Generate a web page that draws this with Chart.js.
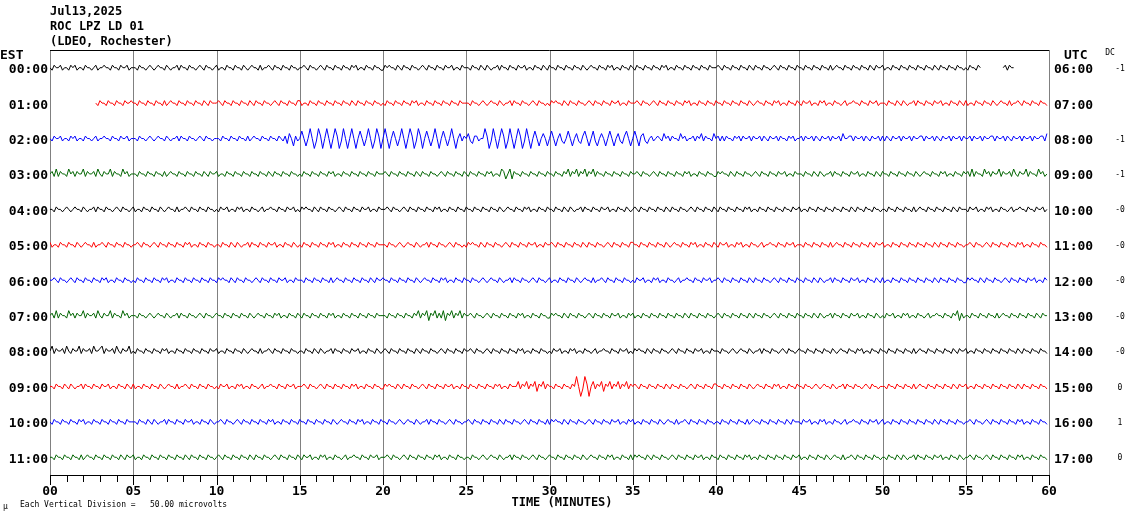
<!DOCTYPE html>
<html>
<head>
<meta charset="utf-8">
<script src="https://cdn.jsdelivr.net/npm/chart.js@4"></script>
<style>
body{margin:0;background:#fff;}
#wrap{width:1130px;height:519px;}
</style>
</head>
<body>
<div id="wrap"><canvas id="heli"></canvas></div>
<script>
//Header and labels
const titleLines = ['Jul13,2025', 'ROC LPZ LD 01', '(LDEO, Rochester)'];
const estLabels = ['00:00','01:00','02:00','03:00','04:00','05:00','06:00','07:00','08:00','09:00','10:00','11:00'];
const utcLabels = ['06:00','07:00','08:00','09:00','10:00','11:00','12:00','13:00','14:00','15:00','16:00','17:00'];
const dcValues = ['-1','','-1','-1','-0','-0','-0','-0','-0','0','1','0'];
const minuteTicks = ['00','05','10','15','20','25','30','35','40','45','50','55','60'];
const colors = ['#000000','#ff0000','#0000ff','#006400'];

//Each char = one sample every 0.125 min, 5 is the trace centre, '.' is no data
const trace00 = "5465564554656455465545645565546554655645"+"5546554565456554654556465546554565465545"+"6455465546554654565546455654655465546554"+"5565465545654655465546554656455465546554"+"4656554654655465545654655465546556455465"+"5546554654654556465546554655645546554654"+"6554655465546554654565546554656455465546"+"5465546554655465645546554655465546554655"+"5654655465546554654655465545654655465546"+"5546554655465546456554655465546554654655"+"6455465546554655465546554654655465546554"+"54655465..........564655................";
const trace01 = "......................546554655465546556"+"5546554655465546456554655465546554654655"+"5654655465546554654655465545654655465546"+"6455465546554655465546554654655465546554"+"5465546554655465645546554655465546554655"+"5546554565456554654556465546554565465545"+"4656554654655465545654655465546556455465"+"5565465545654655465546554656455465546554"+"6554655465546554654565546554656455465546"+"5465564554656455465545645565546554655645"+"5546554654654556465546554655645546554654"+"6455465546554654565546455654655465546554";
const trace02 = "5465564554656455465545645565546554655645"+"5546554565456554654556465546554565465545"+"5546554655465546456554655465546546375264"+"5852595149615951596149515951585259514961"+"5951585259515961496158525951585259515746"+"5743664559614951596149515961495158525752"+"5852574358525743685258425752585257436852"+"5852674356456547564655475645564657465547"+"5646465546564655646556465465564655465645"+"5646556465465564655647556646556465465564"+"6465465564655646556646556465465564655646"+"5564655646556646556465465564655646556647";
const trace03 = "5647465547564655746556475465574655475645"+"5546554655465546456554655465546554654655"+"6455465546554655465546554654655465546554"+"5465546554655465645546554655465546554655"+"5654655465546554654655465545654655465546"+"5465546554656455476357365546554655465546"+"5546554657465746574657465546554655465546"+"5565465545654655465546554656455465546554"+"4656554654655465545654655465546556455465"+"5546554654654556465546554655645546554654"+"6554655465546554654565546554656455465546"+"5647465547564655746556475465574655475645";
const trace04 = "5546554565456554654556465546554565465545"+"6455465546554654565546455654655465546554"+"5465564554656455465545645565546554655645"+"4656554654655465545654655465546556455465"+"5565465545654655465546554656455465546554"+"6554655465546554654565546554656455465546"+"5546554654654556465546554655645546554654"+"5654655465546554654655465545654655465546"+"5465546554655465645546554655465546554655"+"6455465546554655465546554654655465546554"+"5546554655465546456554655465546554654655"+"5465564554656455465545645565546554655645";
const trace05 = "6455465546554654565546455654655465546554"+"5565465545654655465546554656455465546554"+"5546554654654556465546554655645546554654"+"5465546554655465645546554655465546554655"+"5546554565456554654556465546554565465545"+"4656554654655465545654655465546556455465"+"5654655465546554654655465545654655465546"+"6554655465546554654565546554656455465546"+"5465564554656455465545645565546554655645"+"5546554655465546456554655465546554654655"+"6455465546554655465546554654655465546554"+"5565465545654655465546554656455465546554";
const trace06 = "5565465545654655465546554656455465546554"+"5465546554655465645546554655465546554655"+"4656554654655465545654655465546556455465"+"5546554655465546456554655465546554654655"+"6554655465546554654565546554656455465546"+"5546554565456554654556465546554565465545"+"6455465546554654565546455654655465546554"+"5465564554656455465545645565546554655645"+"5654655465546554654655465545654655465546"+"5546554654654556465546554655645546554654"+"6455465546554655465546554654655465546554"+"4656554654655465545654655465546556455465";
const trace07 = "5647465547564655746556475465574655475645"+"5546554565456554654556465546554565465545"+"6554655465546554654565546554656455465546"+"5465546554655465645546554655465546554655"+"5546554655465546574657365746473657465746"+"5565465545654655465546554656455465546554"+"4656554654655465545654655465546556455465"+"6455465546554655465546554654655465546554"+"5654655465546554654655465545654655465546"+"5546554654654556465546554655645546554654"+"5465564554656455465545645565546554657364"+"5546554655465546456554655465546554654655";
const trace08 = "5746556475465574655647556746556475465574"+"5465546554655465645546554655465546554655"+"6455465546554654565546455654655465546554"+"5546554654654556465546554655645546554654"+"5654655465546554654655465545654655465546"+"5565465545654655465546554656455465546554"+"5465564554656455465545645565546554655645"+"4656554654655465545654655465546556455465"+"5546554565456554654556465546554565465545"+"6554655465546554654565546554656455465546"+"5546554655465546456554655465546554654655"+"6455465546554655465546554654655465546554";
const trace09 = "5546554654654556465546554655645546554654"+"6455465546554654565546455654655465546554"+"5465564554656455465545645565546554655645"+"5565465545654655465546554656455465546554"+"4656554654655465545654655465546556455465"+"5465546554655465645546555746574657365746"+"5546554655465951496157465736574657465746"+"5654655465546554654655465545654655465546"+"6554655465546554654565546554656455465546"+"5546554565456554654556465546554565465545"+"5546554655465546456554655465546554654655"+"6455465546554655465546554654655465546554";
const trace10 = "5465546554655465645546554655465546554655"+"5546554654654556465546554655645546554654"+"5565465545654655465546554656455465546554"+"6554655465546554654565546554656455465546"+"5546554565456554654556465546554565465545"+"5654655465546554654655465545654655465546"+"4656554654655465545654655465546556455465"+"6455465546554654565546455654655465546554"+"5546554655465546456554655465546554654655"+"5465564554656455465545645565546554655645"+"6455465546554655465546554654655465546554"+"5565465545654655465546554656455465546554";
const trace11 = "5546554655465546456554655465546554654655"+"6455465546554655465546554654655465546554"+"5654655465546554654655465545654655465546"+"5465564554656455465545645565546554655645"+"5565465545654655465546554656455465546554"+"5546554565456554654556465546554565465545"+"6554655465546554654565546554656455465546"+"4656554654655465545654655465546556455465"+"5465546554655465645546554655465546554655"+"6455465546554654565546455654655465546554"+"5546554654654556465546554655645546554654"+"5565465545654655465546554656455465546554";
const traces = [trace00,trace01,trace02,trace03,trace04,trace05,trace06,trace07,trace08,trace09,trace10,trace11];

const step = 0.125;   // minutes per char
const gain = 0.07;    // trace spacing units per char step

function toPoints(str, row){
    let pts = [];
    for (let i = 0; i < str.length; i++){
        let c = str[i];
        let y = (c == '.') ? null : -row + (Number(c) - 5) * gain;
        pts.push({x: i * step, y: y});
    }
    return pts;
}

let datasets = traces.map(function(t, i){
    return {
        data: toPoints(t, i),
        borderColor: colors[i % 4],
        borderWidth: 1,
        pointRadius: 0,
        tension: 0,
        spanGaps: false
    };
});

const mono = '"DejaVu Sans Mono", "Liberation Mono", monospace';

//Draws frame, grid and all the text around the plot
const heliDecor = {
    id: 'heliDecor',
    beforeDatasetsDraw(chart){
        const ctx = chart.ctx, xs = chart.scales.x, a = chart.chartArea;
        ctx.save();
        ctx.strokeStyle = '#808080';
        ctx.lineWidth = 1;
        for (let m = 0; m <= 60; m += 5){
            let px = Math.round(xs.getPixelForValue(m)) + 0.5;
            ctx.beginPath(); ctx.moveTo(px, a.top); ctx.lineTo(px, a.bottom); ctx.stroke();
        }
        ctx.restore();
    },
    afterDraw(chart){
        const ctx = chart.ctx, xs = chart.scales.x, ys = chart.scales.y, a = chart.chartArea;
        ctx.save();
        ctx.strokeStyle = '#000';
        ctx.lineWidth = 1;
        ctx.beginPath();
        ctx.moveTo(a.left, a.top + 0.5); ctx.lineTo(a.right, a.top + 0.5);
        ctx.moveTo(a.left, a.bottom + 0.5); ctx.lineTo(a.right, a.bottom + 0.5);
        ctx.stroke();
        for (let m = 0; m <= 60; m++){
            let px = Math.round(xs.getPixelForValue(m)) + 0.5;
            ctx.beginPath(); ctx.moveTo(px, a.bottom); ctx.lineTo(px, a.bottom + (m % 5 == 0 ? 10 : 7)); ctx.stroke();
        }
        ctx.fillStyle = '#000';
        ctx.textBaseline = 'middle';
        ctx.font = 'bold 12px ' + mono;
        ctx.textAlign = 'left';
        titleLines.forEach(function(t, i){ ctx.fillText(t, 50, 12 + i * 15); });
        ctx.font = 'bold 13px ' + mono;
        ctx.fillText('EST', 0, 56);
        ctx.fillText('UTC', 1064, 56);
        for (let i = 0; i < 12; i++){
            let py = ys.getPixelForValue(-i) + 2;
            ctx.textAlign = 'right';
            ctx.fillText(estLabels[i], 48, py);
            ctx.textAlign = 'left';
            ctx.fillText(utcLabels[i], 1054, py);
        }
        ctx.textAlign = 'center';
        minuteTicks.forEach(function(t, i){ ctx.fillText(t, xs.getPixelForValue(i * 5), 492); });
        ctx.font = 'bold 12px ' + mono;
        ctx.fillText('TIME (MINUTES)', 562, 503);
        ctx.font = '8px ' + mono;
        ctx.fillText('DC', 1110, 53);
        for (let i = 0; i < 12; i++){
            ctx.textAlign = 'center';
            ctx.fillText(dcValues[i], 1120, ys.getPixelForValue(-i) + 1);
        }
        ctx.textAlign = 'left';
        ctx.fillText('\u00b5', 3, 507);
        ctx.fillText('Each Vertical Division =   50.00 microvolts', 20, 505);
        ctx.restore();
    }
};

new Chart(document.getElementById('heli'), {
    type: 'line',
    data: {datasets: datasets},
    options: {
        responsive: true,
        maintainAspectRatio: false,
        animation: false,
        layout: {padding: {left: 50, right: 81, top: 50, bottom: 44}},
        plugins: {legend: {display: false}, tooltip: {enabled: false}},
        scales: {
            x: {type: 'linear', min: 0, max: 60, display: false},
            y: {type: 'linear', min: -11.5, max: 0.5, display: false}
        }
    },
    plugins: [heliDecor]
});
</script>
</body>
</html>
